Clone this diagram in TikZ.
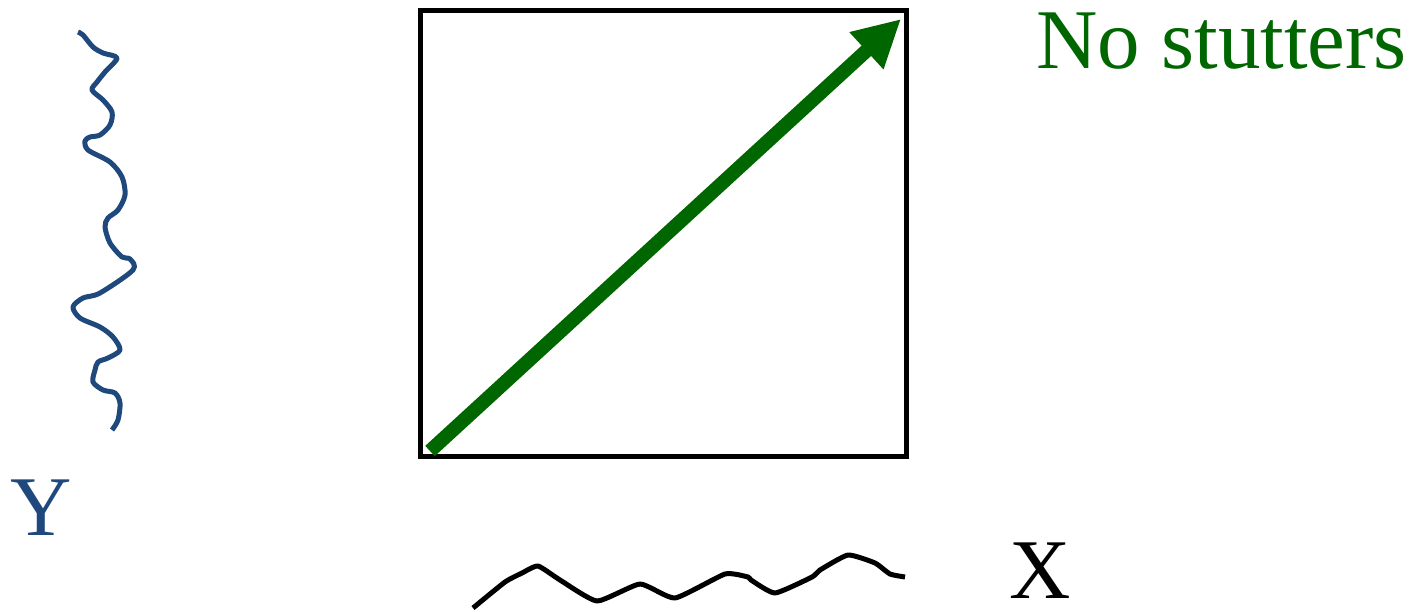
\documentclass[tikz,border=0pt]{standalone}
\usepackage{fontspec}
\setmainfont{Liberation Serif}
\usetikzlibrary{arrows.meta}
\definecolor{ybl}{RGB}{31,73,125}
\definecolor{dgr}{RGB}{0,102,0}
\tikzset{
  lbl/.style={inner sep=0pt, anchor=base west, text depth=0pt, font=\fontsize{85}{90}\selectfont},
  wig/.style={line width=5pt, line join=round, line cap=butt},
}
\begin{document}
\begin{tikzpicture}[x=1pt,y=-1pt]
\useasboundingbox (0,0) rectangle (1410,611);
% box
\draw[line width=5pt] (420,10) rectangle (906,456);
\coordinate (a0) at (430,451);
\coordinate (a1) at (901,19);
\draw[dgr, line width=14pt, -{Triangle[length=47pt,width=47pt]}] (a0) -- (a1);
% Y curve
\draw[wig, ybl] plot[smooth, tension=0.5] coordinates {
(78,32) (83,35) (93,47) (103,53) (117,58) (105,72) (97,82) (92,90) (103,100)
(112,112) (110,125) (100,135) (90,137) (85,141) (88,150) (110,162) (122,177)
(125,195) (118,210) (108,218) (105,227) (110,243) (122,257) (130,259) (133,270)
(100,293) (83,298) (73,307) (80,318) (100,327) (113,337) (120,350) (108,358)
(98,362) (95,370) (93,382) (103,390) (115,393) (120,403) (118,420) (112,430)};
% X curve
\draw[wig, black] plot[smooth, tension=0.3] coordinates {
(473,608) (505,582) (522,573) (538,566) (560,580) (597,601) (640,584) (675,598)
(725,574) (748,577) (751,580) (775,593) (812,577) (820,570) (848,555) (875,563)
(890,574) (905,577)};
% labels
\node[lbl, ybl] (ylab) at (10,535) {Y};
\node[lbl, black] (xlab) at (1009,598) {X};
\node[lbl, dgr] (ns) at (1036,68) {No stutters};
\end{tikzpicture}
\end{document}
